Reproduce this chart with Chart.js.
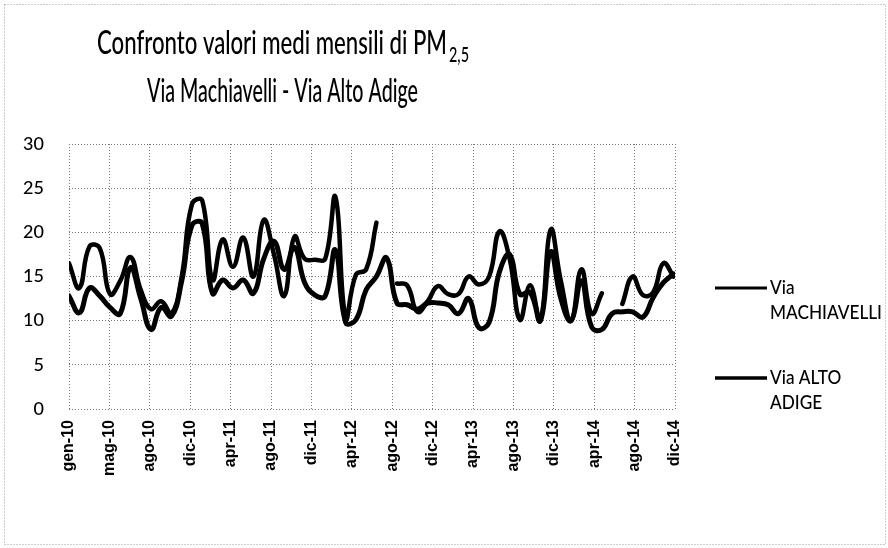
<!DOCTYPE html>
<html>
<head>
<meta charset="utf-8">
<script src="https://cdn.jsdelivr.net/npm/chart.js@4.4.1/dist/chart.umd.min.js"></script>
<style>
  html, body { margin: 0; padding: 0; background: #fff; }
  #wrap { position: relative; width: 888px; height: 548px; }
</style>
</head>
<body>
<div id="wrap"><canvas id="chart"></canvas></div>
<script>
// axis labels, one every 120 days (Excel date axis)
const tickLabels = ['gen-10', 'mag-10', 'ago-10', 'dic-10', 'apr-11', 'ago-11', 'dic-11', 'apr-12',
  'ago-12', 'dic-12', 'apr-13', 'ago-13', 'dic-13', 'apr-14', 'ago-14', 'dic-14'];
const yTicks = [0, 5, 10, 15, 20, 25, 30];

// monthly means, gen-10 .. dic-14 (60 months)
const viaMachiavelli = [
  16.5, 13.7, 18.4, 18.2, 13.0, 14.5, 17.2, 13.5, 11.3, 12.2, 10.8, 15.0,
  23.2, 23.6, 14.6, 19.2, 16.1, 19.4, 15.0, 21.4, 17.5, 12.8, 19.5, 17.0,
  16.9, 17.0, 24.0, 10.3, 15.2, 15.8, 21.1, null, 14.2, 14.0, 11.0, 12.2,
  13.9, 13.0, 13.0, 15.0, 14.1, 15.0, 20.1, 17.0, 10.1, 14.0, 10.0, 20.3,
  14.5, 10.0, 15.8, 10.8, 13.1, null, 11.9, 15.0, 12.9, 13.2, 16.5, 15.0
];
const viaAltoAdige = [
  12.8, 10.9, 13.7, 12.8, 11.5, 10.8, 16.0, 12.5, 9.0, 11.5, 10.5, 14.5,
  20.8, 21.0, 13.1, 14.6, 13.7, 14.6, 13.1, 17.0, 19.0, 15.8, 18.3, 14.3,
  12.9, 12.8, 18.0, 9.8, 10.1, 13.5, 15.0, 17.1, 12.0, 11.8, 11.3, 12.0,
  12.0, 11.8, 10.8, 12.5, 9.2, 9.8, 15.5, 17.5, 13.0, 13.2, 10.0, 17.8,
  12.5, 10.0, 14.5, 9.3, 9.0, 10.8, 11.0, 11.0, 10.4, 12.6, 14.3, 15.3
];

const seriesNames = [['Via', 'MACHIAVELLI'], ['Via ALTO', 'ADIGE']];
const titleLine1 = 'Confronto valori medi mensili di PM';
const titleSub = '2,5';
const titleLine2 = 'Via Machiavelli - Via Alto Adige';

// months per tick (120 days / average month length)
const tickStep = 120 / 30.4375;

const toPoints = arr => arr.map((v, i) => ({ x: i, y: v }));

// draw text squeezed to a given width (the scan is narrower than the font)
function fitText(ctx, text, font, x, y, width) {
  ctx.font = font;
  const s = width / ctx.measureText(text).width;
  ctx.save();
  ctx.translate(x, y);
  ctx.scale(s, 1);
  ctx.fillText(text, 0, 0);
  ctx.restore();
}

const decorations = {
  id: 'decorations',
  afterDraw(chart) {
    const ctx = chart.ctx;
    ctx.save();

    // dotted frame round the whole chart
    ctx.setLineDash([1, 2]);
    ctx.strokeStyle = '#9a9a9a';
    ctx.lineWidth = 1;
    ctx.strokeRect(4.5, 4.5, 881, 540);
    ctx.setLineDash([]);

    // title with subscript
    ctx.fillStyle = '#000';
    ctx.textBaseline = 'alphabetic';
    fitText(ctx, titleLine1, '500 33px Lato', 97, 54, 350);
    fitText(ctx, titleSub, '500 21px Lato', 449, 62, 20);
    fitText(ctx, titleLine2, '500 33px Lato', 147, 102, 271);

    // legend
    const rows = [288, 378];
    const widths = [3, 3.5];
    ctx.font = '500 19px Lato';
    const lx = 112 / ctx.measureText('MACHIAVELLI').width;
    seriesNames.forEach((lines, k) => {
      const y = rows[k];
      ctx.strokeStyle = '#000';
      ctx.lineWidth = widths[k];
      ctx.beginPath();
      ctx.moveTo(715, y);
      ctx.lineTo(767, y);
      ctx.stroke();
      ctx.textBaseline = 'middle';
      lines.forEach((t, j) => {
        ctx.save();
        ctx.translate(770, y + j * 25);
        ctx.scale(lx, 1);
        ctx.fillText(t, 0, 0);
        ctx.restore();
      });
    });
    ctx.restore();
  }
};

const gridStyle = { color: '#7a7a7a', lineWidth: 1, drawTicks: false };

new Chart(document.getElementById('chart'), {
  type: 'line',
  data: {
    datasets: [
      {
        label: 'Via MACHIAVELLI',
        data: toPoints(viaMachiavelli),
        borderColor: '#000',
        borderWidth: 4.5,
        tension: 0.45,
        pointRadius: 0,
        spanGaps: false,
        borderJoinStyle: 'round',
        borderCapStyle: 'round'
      },
      {
        label: 'Via ALTO ADIGE',
        data: toPoints(viaAltoAdige),
        borderColor: '#000',
        borderWidth: 5,
        tension: 0.45,
        pointRadius: 0,
        spanGaps: false,
        borderJoinStyle: 'round',
        borderCapStyle: 'round'
      }
    ]
  },
  options: {
    responsive: true,
    maintainAspectRatio: false,
    animation: false,
    devicePixelRatio: 1,
    layout: { padding: { left: 0, right: 213, top: 144, bottom: 0 } },
    plugins: {
      legend: { display: false },
      title: { display: false },
      tooltip: { enabled: false }
    },
    scales: {
      x: {
        type: 'linear',
        min: 0,
        max: tickStep * (tickLabels.length - 1),
        afterFit: s => { s.height = 139; },
        afterBuildTicks: s => {
          s.ticks = tickLabels.map((_, k) => ({ value: k * tickStep }));
        },
        grid: gridStyle,
        border: { display: false, dash: [1, 2] },
        ticks: {
          autoSkip: false,
          maxRotation: 90,
          minRotation: 90,
          padding: 11,
          color: '#000',
          font: { family: 'Liberation Sans', size: 16, weight: 'bold' },
          callback: (v, i) => tickLabels[i]
        }
      },
      y: {
        min: yTicks[0],
        max: yTicks[yTicks.length - 1],
        afterFit: s => { s.width = 69; },
        grid: gridStyle,
        border: { display: false, dash: [1, 2] },
        ticks: {
          stepSize: 5,
          padding: 25,
          color: '#000',
          font: { family: 'Lato', size: 18, weight: '500' }
        }
      }
    }
  },
  plugins: [decorations]
});
</script>
</body>
</html>
